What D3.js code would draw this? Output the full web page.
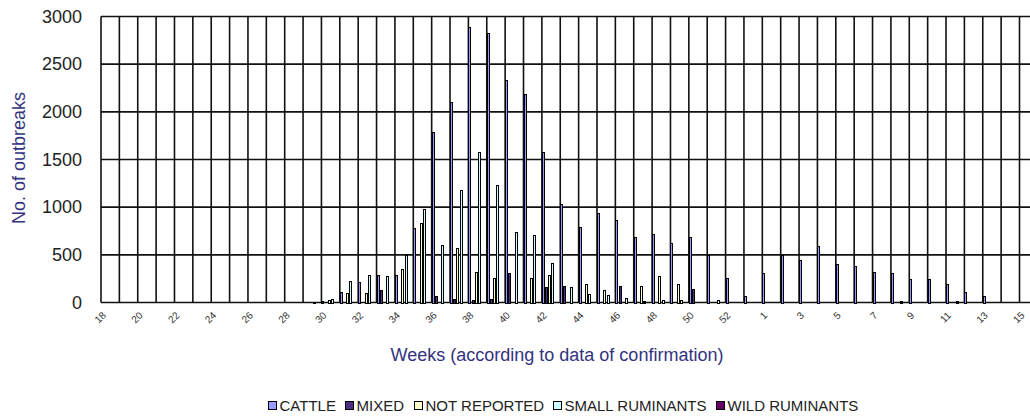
<!DOCTYPE html>
<html><head><meta charset="utf-8">
<script src="https://cdn.jsdelivr.net/npm/d3@7"></script>
<style>
html,body{margin:0;padding:0;background:#fff;}
svg{display:block;}
text{font-family:Arial,"Liberation Sans",sans-serif;}
</style></head><body>
<svg id="chart" width="1030" height="419"></svg>
<script>
const weeks = ["18","19","20","21","22","23","24","25","26","27","28","29","30","31","32","33","34","35","36","37","38","39","40","41","42","43","44","45","46","47","48","49","50","51","52","53","1","2","3","4","5","6","7","8","9","10","11","12","13","14","15"];
const xTickLabels = ["18","20","22","24","26","28","30","32","34","36","38","40","42","44","46","48","50","52","1","3","5","7","9","11","13","15"];
const yTicks = [0,500,1000,1500,2000,2500,3000];
const seriesNames = ["CATTLE","MIXED","NOT REPORTED","SMALL RUMINANTS","WILD RUMINANTS"];
const seriesColors = ["#9999FF","#4B2E83","#FFFFCC","#CCFFFF","#660066"];

const cattle = [0,0,0,0,0,0,0,0,0,0, 0,0,15,105,220,290,290,780,1785,2100, 2895,2825,2335,2185,1575,1035,797,938,868,686, 720,623,686,500,256,63,308,500,441,588, 406,388,325,308,245,245,193,112,63,0, 0];
const mixed = [0,0,0,0,0,0,0,0,0,0, 0,0,0,0,0,126,0,0,63,40, 25,40,308,0,160,175,0,0,175,0, 0,0,140,0,0,0,0,0,0,0, 0,0,0,0,0,0,0,0,0,0, 0];
const notReported = [0,0,0,0,0,0,0,0,0,0, 0,0,25,95,95,0,355,833,0,570, 325,256,0,258,290,0,196,133,0,175, 273,193,0,0,0,0,0,0,0,0, 0,0,0,0,0,0,0,0,0,0, 0];
const smallRuminants = [0,0,0,0,0,0,0,0,0,0, 0,5,40,222,290,275,495,980,598,1180, 1578,1232,738,710,413,160,91,81,46,20, 25,25,0,25,0,0,0,0,0,0, 0,0,0,20,0,0,20,0,0,0, 0];
const wildRuminants = [0,0,0,0,0,0,0,0,0,0, 0,0,0,0,0,0,0,0,0,0, 0,0,0,0,0,0,0,0,0,0, 0,0,0,0,0,0,0,0,0,0, 0,0,0,0,0,0,0,0,0,0, 0];
const seriesValues = [cattle, mixed, notReported, smallRuminants, wildRuminants];

const W = 1030, H = 419;
const plotLeft = 101, plotTop = 16.5, plotBottom = 302.5, catW = 18.37;
const svg = d3.select("#chart");
svg.append("rect").attr("width", W).attr("height", H).attr("fill", "#fff");

const x0 = d3.scaleBand().domain(weeks).range([plotLeft, plotLeft + catW * weeks.length]).paddingInner(0).paddingOuter(0);
const x1 = d3.scaleBand().domain(seriesNames).range([0, catW * 0.87]).padding(0);
const y = d3.scaleLinear().domain([0, 3000]).range([plotBottom, plotTop]);

// gridlines
const grid = svg.append("g").attr("stroke", "#111").attr("stroke-width", 1.6);
grid.selectAll("line.h").data(yTicks).join("line").attr("class", "h")
  .attr("x1", plotLeft).attr("x2", W).attr("y1", d => y(d)).attr("y2", d => y(d));
const bounds = weeks.map(w => x0(w)).concat([x0.range()[1]]);
grid.selectAll("line.v").data(bounds).join("line").attr("class", "v")
  .attr("x1", d => d).attr("x2", d => d)
  .attr("y1", plotTop).attr("y2", plotBottom);

// bars: black outline rect + coloured interior
const barsData = [];
seriesNames.forEach((s, si) => {
  weeks.forEach((w, ci) => {
    const v = seriesValues[si][ci];
    if (v > 0) barsData.push({ s, si, w, v });
  });
});
const yBase = Math.round(y(0));
const barW = 3;
const bx = d => Math.round(x0(d.w) + x1(d.s));
const by = d => Math.min(Math.round(y(d.v)), yBase - 1);
const barG = svg.append("g").attr("shape-rendering", "crispEdges");
barG.selectAll("rect.o").data(barsData).join("rect").attr("class", "o")
  .attr("x", bx).attr("width", barW)
  .attr("y", by).attr("height", d => yBase - by(d) + 1)
  .attr("fill", "#000");
barG.selectAll("rect.i").data(barsData.filter(d => yBase - by(d) > 2)).join("rect").attr("class", "i")
  .attr("x", d => bx(d) + 1).attr("width", barW - 2)
  .attr("y", d => by(d) + 1).attr("height", d => yBase - by(d) - 1)
  .attr("fill", d => seriesColors[d.si]);

// y axis
const yAxis = svg.append("g").attr("transform", `translate(${plotLeft},0)`)
  .call(d3.axisLeft(y).tickValues(yTicks).tickSize(0).tickPadding(19).tickFormat(d3.format("d")));
yAxis.select(".domain").remove();
yAxis.selectAll("text").attr("font-size", 18).attr("fill", "#222").attr("font-family", "Arial, 'Liberation Sans', sans-serif");

// x axis
const xAxis = svg.append("g").attr("transform", `translate(0,${plotBottom})`)
  .call(d3.axisBottom(x0).tickValues(xTickLabels).tickSize(0));
xAxis.select(".domain").remove();
xAxis.selectAll("text")
  .attr("x", 0).attr("y", 0).attr("dy", "0.35em")
  .attr("text-anchor", "end")
  .attr("transform", "translate(-6,11) rotate(-45)")
  .attr("font-size", 10).attr("fill", "#333")
  .attr("font-family", "Arial, 'Liberation Sans', sans-serif");

// axis titles
svg.append("text").attr("transform", "translate(25,158) rotate(-90)")
  .attr("text-anchor", "middle").attr("font-size", 18).attr("fill", "#33337f")
  .text("No. of outbreaks");
svg.append("text").attr("x", 557).attr("y", 361)
  .attr("text-anchor", "middle").attr("font-size", 18).attr("fill", "#33337f")
  .text("Weeks (according to data of confirmation)");

// legend
const leg = svg.append("g");
const items = leg.selectAll("g").data(seriesNames).join("g");
items.append("rect").attr("width", 8).attr("height", 8).attr("y", 401.5)
  .attr("fill", (d, i) => seriesColors[i]).attr("stroke", "#000").attr("stroke-width", 1);
items.append("text").attr("x", 11).attr("y", 410.5).attr("font-size", 15).attr("fill", "#222").text(d => d);
let widths = [];
items.each(function () { widths.push(11 + d3.select(this).select("text").node().getComputedTextLength()); });
const gap = 10;
const total = d3.sum(widths) + gap * (widths.length - 1);
let cx = 563 - total / 2;
items.each(function (d, i) { d3.select(this).attr("transform", `translate(${Math.round(cx) + 0.5},0)`); cx += widths[i] + gap; });
</script>
</body></html>
